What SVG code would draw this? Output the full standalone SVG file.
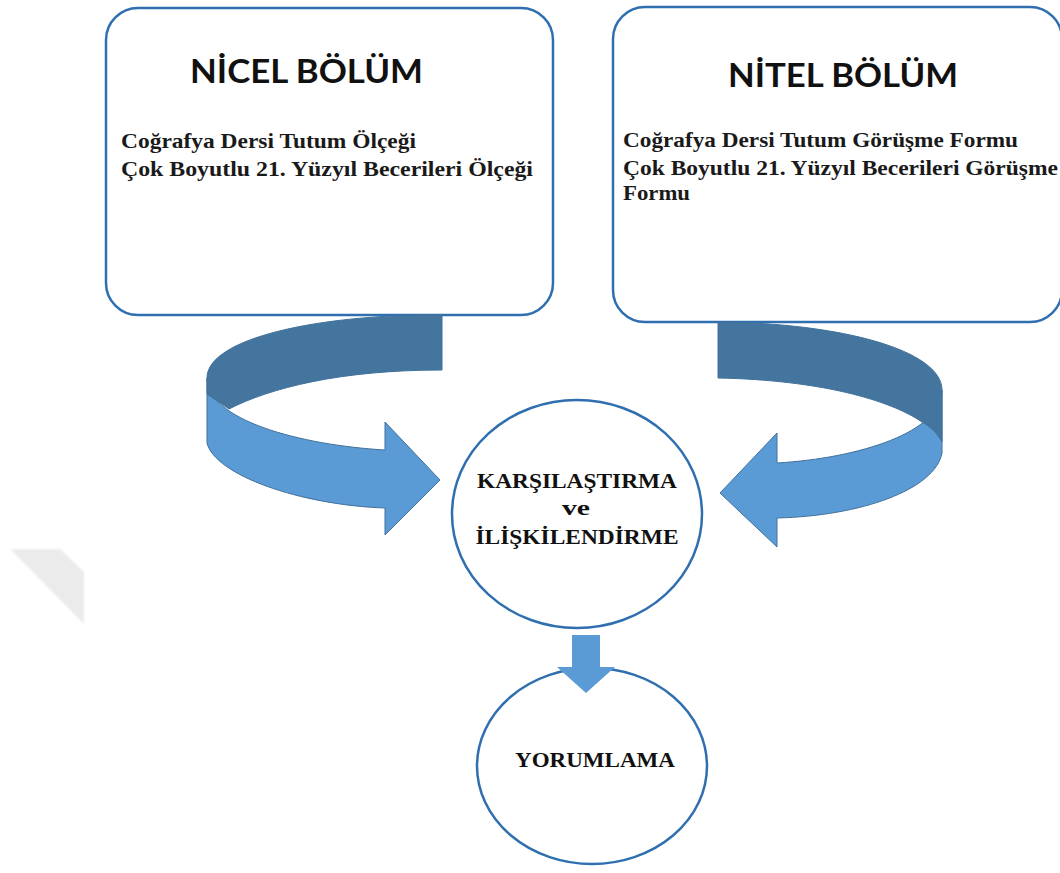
<svg xmlns="http://www.w3.org/2000/svg" width="1060" height="873" viewBox="0 0 1060 873">
  <defs>
    <style>
      .box { fill: #ffffff; stroke: #2f6fb0; stroke-width: 2.5; }
      .ring { fill: #ffffff; stroke: #2f6fb0; stroke-width: 2.5; }
      .front { fill: #5b9bd5; stroke: #41719c; stroke-width: 1; }
      .back { fill: #44759f; stroke: #41719c; stroke-width: 1; }
      .title { font-family: "Lato", "Open Sans", sans-serif; font-weight: bold; font-size: 32px; fill: #111111; }
      .body { font-family: "Liberation Serif", "Times New Roman", serif; font-weight: bold; font-size: 21px; fill: #1a1a1a; }
      .label { font-family: "Liberation Serif", "Times New Roman", serif; font-weight: bold; font-size: 22px; fill: #111111; text-anchor: middle; }
    </style>
    <filter id="soft" x="-20%" y="-20%" width="140%" height="140%">
      <feGaussianBlur stdDeviation="1.2"/>
    </filter>
  </defs>

  <rect width="1060" height="873" fill="#ffffff"/>

  <!-- faint corner mark -->
  <polygon points="10,549 60,549 84,572 84,624" fill="#ebebeb" filter="url(#soft)"/>

  <!-- quantitative part -->
  <g id="nicel">
    <rect class="box" x="106" y="8" width="447" height="307" rx="32" ry="32"/>
    <text class="title" x="190" y="83" textLength="233" lengthAdjust="spacingAndGlyphs">NİCEL BÖLÜM</text>
    <text class="body" x="121" y="148" textLength="295" lengthAdjust="spacingAndGlyphs">Coğrafya Dersi Tutum Ölçeği</text>
    <text class="body" x="121" y="176" textLength="412" lengthAdjust="spacingAndGlyphs">Çok Boyutlu 21. Yüzyıl Becerileri Ölçeği</text>
  </g>

  <!-- qualitative part -->
  <g id="nitel">
    <rect class="box" x="613" y="7" width="449" height="315" rx="32" ry="32"/>
    <text class="title" x="728" y="87" textLength="230" lengthAdjust="spacingAndGlyphs">NİTEL BÖLÜM</text>
    <text class="body" x="623" y="147" textLength="395" lengthAdjust="spacingAndGlyphs">Coğrafya Dersi Tutum Görüşme Formu</text>
    <text class="body" x="623" y="175" textLength="435" lengthAdjust="spacingAndGlyphs">Çok Boyutlu 21. Yüzyıl Becerileri Görüşme</text>
    <text class="body" x="623" y="200" textLength="67" lengthAdjust="spacingAndGlyphs">Formu</text>
  </g>

  <!-- connectors: curved ribbons and the down arrow -->
  <g id="connectors">
    <!-- left ribbon -->
    <path class="front" d="M 207 378 L 207 443 C 215 475, 300 505, 385 508 L 385 535 L 440 480 L 385 422 L 385 450 C 300 445, 207 420, 207 378 Z"/>
    <path class="back" d="M 442 315 C 320 314, 207 338, 207 378 L 207 394 L 229 409 C 270 388, 340 370, 442 370 Z"/>
    <!-- right ribbon -->
    <path class="front" d="M 942 390 L 942 453 C 935 490, 860 516, 777 518 L 777 547 L 720 493 L 777 433 L 777 463 C 860 458, 942 432, 942 390 Z"/>
    <path class="back" d="M 718 322 C 840 323, 942 350, 942 390 L 942 442 C 938 434, 930 426, 922 422 C 890 400, 820 380, 718 378 Z"/>
  </g>

  <!-- comparison node -->
  <g id="karsilastirma">
    <ellipse class="ring" cx="577" cy="514" rx="125" ry="114"/>
    <text class="label" x="577" y="488" textLength="200" lengthAdjust="spacingAndGlyphs">KARŞILAŞTIRMA</text>
    <text class="label" x="576" y="515" textLength="28" lengthAdjust="spacingAndGlyphs">ve</text>
    <text class="label" x="577" y="544" textLength="203" lengthAdjust="spacingAndGlyphs">İLİŞKİLENDİRME</text>
  </g>

  <!-- interpretation node -->
  <g id="yorumlama">
    <ellipse class="ring" cx="592" cy="766" rx="115" ry="98"/>
    <text class="label" x="595" y="767" textLength="160" lengthAdjust="spacingAndGlyphs">YORUMLAMA</text>
  </g>

  <!-- down arrow drawn over the lower node -->
  <g id="down-arrow">
    <polygon points="572,635 600,635 600,667 615,667 586,693 557,667 572,667" fill="#5b9bd5"/>
  </g>
</svg>
